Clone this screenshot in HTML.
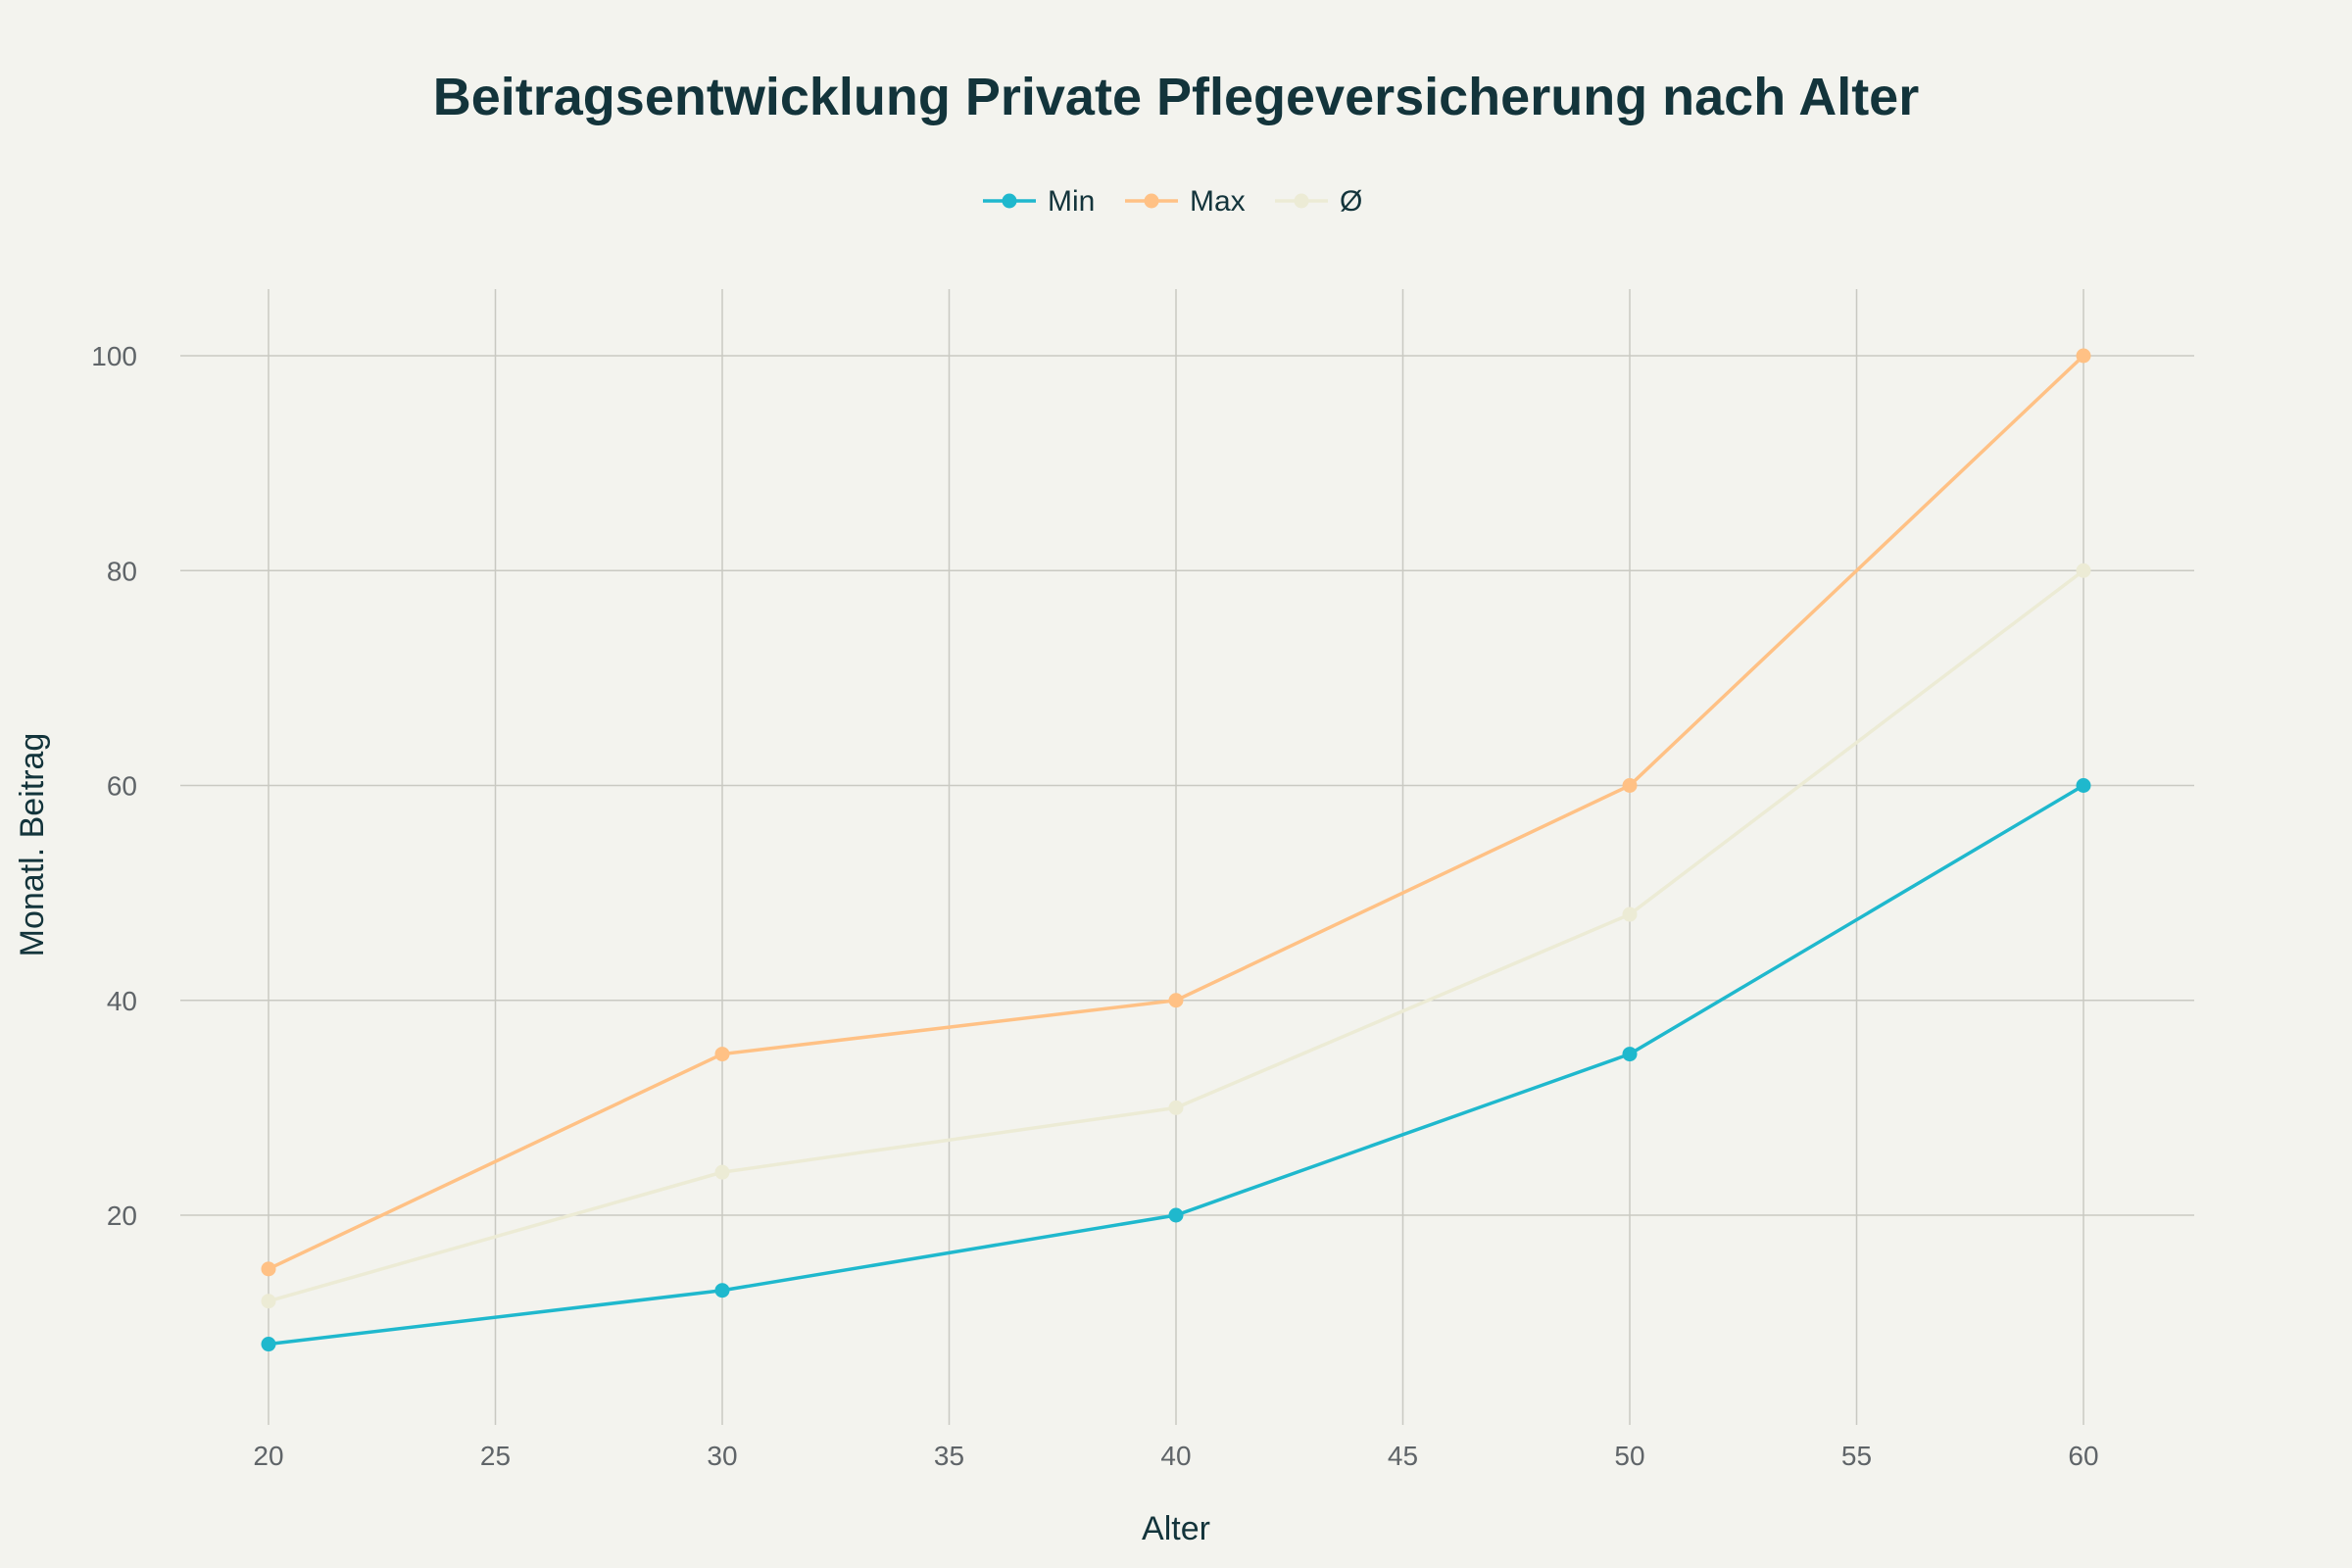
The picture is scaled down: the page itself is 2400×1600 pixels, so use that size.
<!DOCTYPE html>
<html><head><meta charset="utf-8"><style>
html,body{margin:0;padding:0;background:#f3f3ee;}
svg{display:block;font-family:"Liberation Sans",sans-serif;}
</style></head><body>
<svg id="chart" width="2400" height="1600" viewBox="0 0 2400 1600" xmlns="http://www.w3.org/2000/svg">
<rect width="2400" height="1600" fill="#f3f3ee"/>
<text x="1200" y="117" text-anchor="middle" font-size="54" font-weight="bold" fill="#13343b">Beitragsentwicklung Private Pflegeversicherung nach Alter</text>
<g id="grid"></g>
<g id="series"></g>
<g id="legend"></g>
<text x="1200" y="1571" text-anchor="middle" font-size="34" fill="#13343b">Alter</text>
<text transform="translate(44,862) rotate(-90)" text-anchor="middle" font-size="34" fill="#13343b">Monatl. Beitrag</text>
</svg>
<script>
const ages = [20, 30, 40, 50, 60];
const minValues = [8, 13, 20, 35, 60];
const maxValues = [15, 35, 40, 60, 100];
const avgValues = [12, 24, 30, 48, 80];
const xTicks = [20, 25, 30, 35, 40, 45, 50, 55, 60];
const yTicks = [20, 40, 60, 80, 100];
const seriesNames = ["Min", "Max", "Ø"];

const NS = "http://www.w3.org/2000/svg";
const plotL = 184, plotR = 2239, plotT = 295, plotB = 1454;
function xScale(v){ return 274 + (v - 20) * (2126 - 274) / 40; }
function yScale(v){ return 1240 - (v - 20) * (1240 - 363) / 80; }
function mk(tag, attrs, parent){
  const e = document.createElementNS(NS, tag);
  for (const k in attrs) e.setAttribute(k, attrs[k]);
  parent.appendChild(e);
  return e;
}
const grid = document.getElementById("grid");
xTicks.forEach(t => {
  const x = xScale(t);
  const l = mk("line", {x1:x, x2:x, y1:plotT, y2:plotB, stroke:"#c9c9c2", "stroke-width":1.5}, grid);
  
  
  const tx = mk("text", {x:x, y:1495, "text-anchor":"middle", "font-size":28, fill:"#5f6468"}, grid);
  
  
  tx.textContent = t;
});
yTicks.forEach(t => {
  const y = yScale(t);
  const l = mk("line", {x1:plotL, x2:plotR, y1:y, y2:y, stroke:"#c9c9c2", "stroke-width":1.5}, grid);
  
  
  const tx = mk("text", {x:140, y:y+10, "text-anchor":"end", "font-size":28, fill:"#5f6468"}, grid);
  
  
  tx.textContent = t;
});
const colors = ["#1fb8cd", "#ffc185", "#ecebd5"];
const allSeries = [minValues, maxValues, avgValues];
const seriesLayer = document.getElementById("series");
// draw order: avg, max, min (min on top)
[2, 1, 0].forEach(i => {
  const vals = allSeries[i];
  const pts = ages.map((a, j) => xScale(a) + "," + yScale(vals[j])).join(" ");
  const pl = mk("polyline", {points:pts, fill:"none", stroke:colors[i], "stroke-width":3.5}, seriesLayer);
  
  
  ages.forEach((a, j) => {
    const c = mk("circle", {cx:xScale(a), cy:yScale(vals[j]), r:7.5, fill:colors[i]}, seriesLayer);
    
    
  });
});
const legend = document.getElementById("legend");
const legX = [1003, 1148, 1301];
seriesNames.forEach((n, i) => {
  const x = legX[i];
  const g = mk("g", {}, legend);
  
  
  mk("line", {x1:x, x2:x+54, y1:205, y2:205, stroke:colors[i], "stroke-width":3.5}, g);
  mk("circle", {cx:x+27, cy:205, r:7.5, fill:colors[i]}, g);
  const t = mk("text", {x:x+66, y:215, "font-size":30, fill:"#13343b"}, g);
  t.textContent = n;
});
</script>
</body></html>
